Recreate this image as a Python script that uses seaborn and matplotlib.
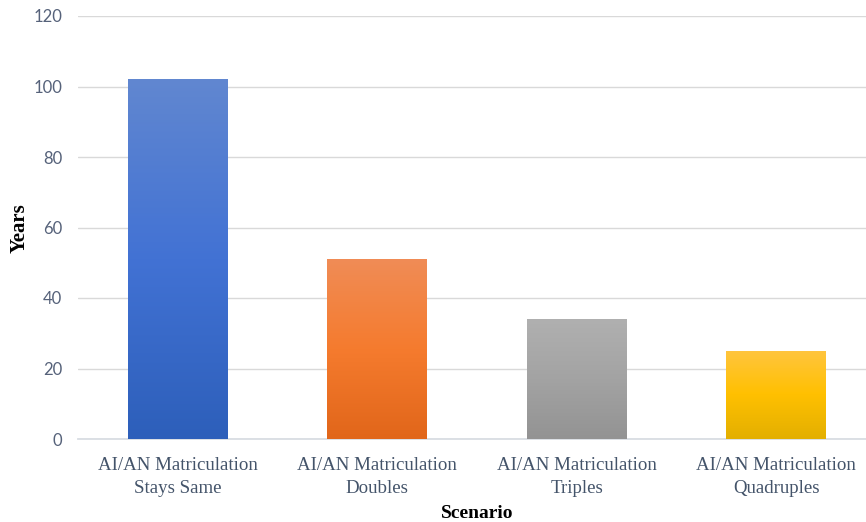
import numpy as np
import pandas as pd
import matplotlib
matplotlib.use("Agg")
import matplotlib.pyplot as plt
import matplotlib.colors as mcolors
import seaborn as sns

scenarios = ["AI/AN Matriculation\nStays Same", "AI/AN Matriculation\nDoubles",
             "AI/AN Matriculation\nTriples", "AI/AN Matriculation\nQuadruples"]
years = [102, 51, 34, 25]
# gradient stops (top, middle, bottom) for each bar
grad_colors = [["#6187D0", "#4272D4", "#2D5FBA"],
               ["#F08C56", "#F57B2E", "#E1661A"],
               ["#B0B0B0", "#A3A3A3", "#939393"],
               ["#FFC53F", "#FFC000", "#E3AF00"]]

df = pd.DataFrame({"Scenario": scenarios, "Years": years})

sns.set_style("white")
fig = plt.figure(figsize=(8.66, 5.22), dpi=100)
ax = fig.add_axes([78 / 866, 83 / 522, 788 / 866, 423 / 522])

sns.barplot(data=df, x="Scenario", y="Years", width=0.5, color="#4472C4",
            ax=ax, zorder=2)

# Excel-like vertical gradient fill on each bar
for patch, cols in zip(ax.patches, grad_colors):
    x0, y0 = patch.get_x(), patch.get_y()
    w, h = patch.get_width(), patch.get_height()
    cmap = mcolors.LinearSegmentedColormap.from_list("g", cols[::-1])
    grad = np.linspace(0, 1, 256).reshape(-1, 1)
    im = ax.imshow(grad, cmap=cmap, origin="lower", aspect="auto",
                   extent=[x0, x0 + w, y0, y0 + h], zorder=3)
    im.set_clip_path(patch)
    patch.set_facecolor("none")
    patch.set_edgecolor("none")

ax.set_xlim(-0.5, 3.45)
ax.set_ylim(0, 120)
ax.set_yticks(range(0, 121, 20))

ax.yaxis.grid(True, color="#D9D9D9", linewidth=1.0, zorder=0)
ax.set_axisbelow(True)
for s in ["top", "right", "left"]:
    ax.spines[s].set_visible(False)
ax.spines["bottom"].set_color("#D9DDE3")
ax.spines["bottom"].set_linewidth(1.3)

ax.tick_params(axis="both", length=0)
ax.tick_params(axis="y", pad=11.5)
ax.tick_params(axis="x", pad=13)
for lbl in ax.get_yticklabels():
    lbl.set_fontfamily("Lato")
    lbl.set_fontsize(12)
    lbl.set_color("#56627A")
for lbl in ax.get_xticklabels():
    lbl.set_fontfamily("Liberation Serif")
    lbl.set_fontsize(13.6)
    lbl.set_color("#44546A")
    lbl.set_linespacing(1.45)

ax.set_ylabel("")
ax.set_xlabel("")
fig.text(20 / 866, 1 - 228 / 522, "Years", rotation=90, ha="center", va="center",
         fontfamily="Liberation Serif", fontweight="bold", fontsize=15, color="black")
fig.text(477 / 866, 1 - 513 / 522, "Scenario", ha="center", va="center",
         fontfamily="Liberation Serif", fontweight="bold", fontsize=14, color="black")

fig.savefig("out.png", dpi=100)
